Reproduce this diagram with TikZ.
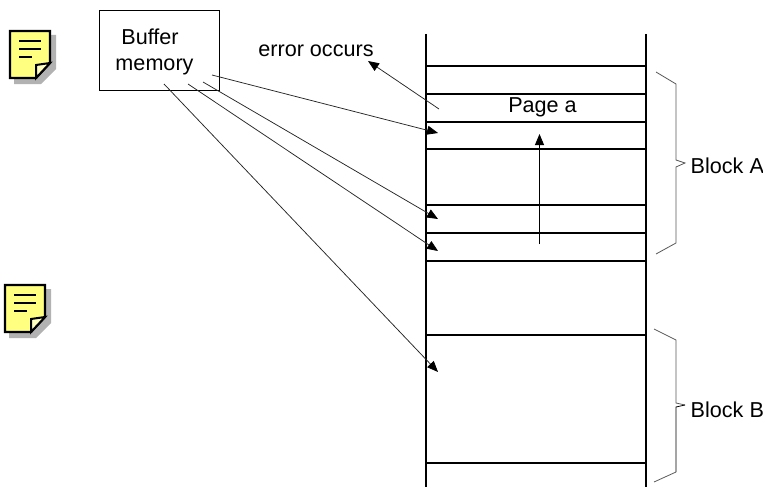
\documentclass[tikz,border=0pt]{standalone}
\usepackage{fontspec}
\setmainfont{Liberation Sans}
\usetikzlibrary{arrows.meta}
\definecolor{notey}{HTML}{FFFF80}
\tikzset{
  thick line/.style={line width=2pt,black,line cap=butt},
  conn/.style={line width=0.75pt,black!85,-{Triangle[length=11pt,width=9pt,color=black]}},
  bracket/.style={line width=0.8pt,black!65,line join=miter},
  lbl/.style={font=\fontsize{21.6}{25}\selectfont,text=black,inner sep=0pt,anchor=base},
  notefill/.style={fill=notey,draw=black,line width=2.2pt,line join=miter},
  noteshadow/.style={fill=black!30,draw=none},
  noteline/.style={line width=2.6pt,black}
}
\newcommand{\noteicon}[2]{%
  \begin{scope}[shift={(#1,#2)}]
    \fill[noteshadow] (5,5) -- (47,5) -- (47,39) -- (32,54) -- (5,54) -- cycle;
    \path[notefill] (1,1) -- (41,1) -- (41,33) -- (27,48) -- (1,48) -- cycle;
    \path[draw=black,fill=notey!50!white,line width=2pt,line join=miter] (41,33) -- (27,35) -- (27,48) -- cycle;
    \draw[noteline] (10,11) -- (32,11);
    \draw[noteline] (10,19) -- (32,19);
    \draw[noteline] (10,27) -- (23,27);
  \end{scope}}
\begin{document}
\begin{tikzpicture}[x=1pt,y=-1pt]
\useasboundingbox (0,0) rectangle (763,487);
\noteicon{9}{30}
\noteicon{4}{284}
% buffer
\node[draw=black,line width=0.9pt,minimum width=120pt,minimum height=80pt,inner sep=0pt] (buffer) at (159,50) {};
\node[lbl] (t1) at (150,45) {Buffer};
\node[lbl] (t2) at (154.5,70.5) {memory};
\node[lbl] (err) at (316,57) {error occurs};
% rails
\coordinate (ltop) at (426,34);\coordinate (lbot) at (426,487);
\coordinate (rtop) at (646,34);\coordinate (rbot) at (646,487);
\draw[thick line] (ltop) -- (lbot);
\draw[thick line] (rtop) -- (rbot);
\foreach \y/\n in {66/a,94/b,122/c,149/d,205/e,233/f,261/g,335/h,463/i}{
  \coordinate (l\n) at (426,\y);
  \coordinate (r\n) at (646,\y);
  \draw[thick line,line width=1.8pt] (l\n) -- (r\n);
}
\node[lbl] (page) at (542.5,112.5) {Page a};
% arrows
\coordinate (e0) at (439,109);\coordinate (e1) at (368,61);
\draw[conn] (e0) -- (e1);
\coordinate (s1) at (212,75);\coordinate (d1) at (438,133);
\coordinate (s2) at (203,82);\coordinate (d2) at (438,219);
\coordinate (s3) at (188,84);\coordinate (d3) at (438,251);
\coordinate (s4) at (164,84);\coordinate (d4) at (438,372);
\draw[conn] (s1) -- (d1);
\draw[conn] (s2) -- (d2);
\draw[conn] (s3) -- (d3);
\draw[conn] (s4) -- (d4);
\coordinate (u0) at (539.5,244);\coordinate (u1) at (539.5,134);
\draw[conn,line width=0.9pt,black] (u0) -- (u1);
% brackets
\draw[bracket] (656,72) -- (676,84) -- (676,160) -- (685,163) -- (676,167) -- (676,243) -- (656,254);
\draw[bracket] (654,329) -- (676,340) -- (676,403) -- (685,405);
\draw[bracket,black] (685,405) -- (676,407) -- (676,472);
\draw[bracket] (676,472) -- (654,482);
\node[lbl,anchor=base west] (ba) at (690.5,173.5) {Block A};
\node[lbl,anchor=base west] (bb) at (690.5,417) {Block B};
\end{tikzpicture}
\end{document}
